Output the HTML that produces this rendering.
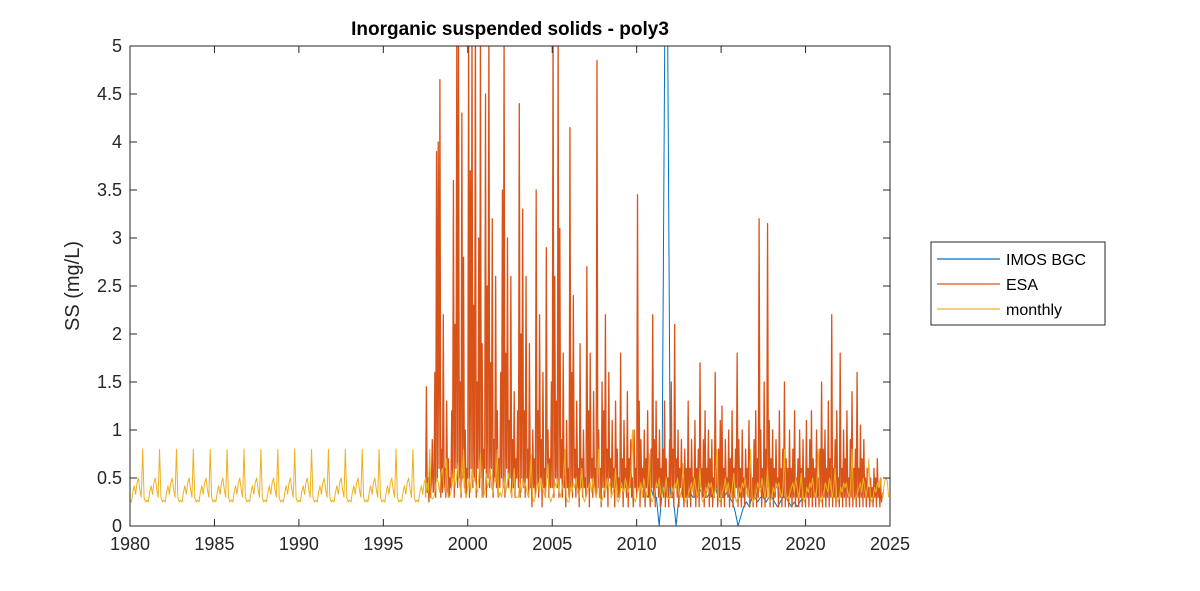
<!DOCTYPE html>
<html><head><meta charset="utf-8"><style>
html,body{margin:0;padding:0;background:#fff;}
svg{display:block;font-family:"Liberation Sans",Arial,sans-serif;}
</style></head><body>
<svg id="chart" width="1200" height="591" viewBox="0 0 1200 591">
<defs><clipPath id="clip"><rect x="130" y="46" width="760" height="480"/></clipPath></defs>
<rect width="1200" height="591" fill="#fff"/>
<text x="510" y="35" text-anchor="middle" font-size="19" font-weight="bold" fill="#000">Inorganic suspended solids - poly3</text>
<text transform="translate(79,286) rotate(-90)" text-anchor="middle" font-size="20" fill="#262626">SS (mg/L)</text>
<g id="series" clip-path="url(#clip)"></g>
<g id="axes"></g>
<g>
<rect x="931" y="242" width="174" height="83" fill="#fff" stroke="#262626" stroke-width="1"/>
<line x1="937" y1="259" x2="1000" y2="259" stroke="#0072BD" stroke-width="1.2"/>
<text x="1006" y="265" font-size="16" fill="#000">IMOS BGC</text>
<line x1="937" y1="284" x2="1000" y2="284" stroke="#D95319" stroke-width="1.2"/>
<text x="1006" y="290" font-size="16" fill="#000">ESA</text>
<line x1="937" y1="309" x2="1000" y2="309" stroke="#EDB120" stroke-width="1.2"/>
<text x="1006" y="315" font-size="16" fill="#000">monthly</text>
</g>
</svg>
<script>
const xTicks=[1980,1985,1990,1995,2000,2005,2010,2015,2020,2025];
const yTicks=[0,0.5,1,1.5,2,2.5,3,3.5,4,4.5,5];
const yTickLabels=["0","0.5","1","1.5","2","2.5","3","3.5","4","4.5","5"];
const monthlyClim=[0.27,0.25,0.35,0.42,0.33,0.45,0.5,0.38,0.3,0.8,0.3,0.25];
const monthlyPostStart=1997.5;
const monthlyPost=[
0.3,0.45,0.35,0.8,0.3,0.28,
0.3,0.4,0.5,0.45,0.35,0.55,0.6,0.4,0.35,0.7,0.3,0.3,
0.35,0.45,0.6,0.4,0.5,0.65,0.45,0.35,0.5,0.8,0.35,0.3,
0.4,0.5,0.35,0.6,0.45,0.5,0.4,0.35,0.55,0.75,0.3,0.3,
0.35,0.55,0.4,0.45,0.6,0.4,0.35,0.5,0.45,0.8,0.3,0.35,
0.3,0.4,0.5,0.35,0.45,0.55,0.4,0.3,0.45,0.6,0.3,0.3,
0.3,0.45,0.35,0.5,0.4,0.45,0.35,0.3,0.4,0.75,0.3,0.25,
0.3,0.4,0.45,0.35,0.5,0.4,0.35,0.3,0.45,0.65,0.3,0.25,
0.3,0.35,0.45,0.4,0.5,0.35,0.3,0.4,0.45,0.8,0.3,0.25,
0.25,0.4,0.35,0.45,0.4,0.5,0.35,0.3,0.4,0.6,0.3,0.25,
0.3,0.35,0.4,0.45,0.35,0.5,0.4,0.3,0.35,0.8,0.3,0.25,
0.3,0.4,0.35,0.5,0.4,0.45,0.3,0.35,0.4,0.6,0.28,0.25,
0.3,0.45,0.4,0.35,0.5,0.4,0.35,0.45,0.55,1.0,0.3,0.25,
0.3,0.4,0.35,0.45,0.3,0.5,0.4,0.3,0.45,0.75,0.3,0.25,
0.3,0.35,0.45,0.4,0.5,0.35,0.3,0.4,0.35,0.5,0.3,0.28,
0.3,0.4,0.35,0.45,0.4,0.5,0.35,0.3,0.4,0.65,0.3,0.25,
0.28,0.35,0.4,0.45,0.35,0.5,0.4,0.3,0.4,0.6,0.3,0.25,
0.3,0.4,0.35,0.45,0.4,0.45,0.35,0.3,0.4,0.8,0.3,0.25,
0.3,0.35,0.4,0.5,0.35,0.45,0.35,0.3,0.4,0.55,0.3,0.25,
0.3,0.4,0.35,0.45,0.4,0.5,0.35,0.3,0.4,0.8,0.3,0.25,
0.3,0.35,0.45,0.4,0.35,0.5,0.4,0.3,0.4,0.6,0.3,0.25,
0.3,0.4,0.35,0.45,0.4,0.45,0.35,0.3,0.4,0.8,0.3,0.28,
0.3,0.35,0.4,0.45,0.35,0.5,0.4,0.3,0.4,0.55,0.3,0.25,
0.3,0.4,0.35,0.45,0.4,0.5,0.35,0.3,0.4,0.8,0.3,0.25,
0.3,0.35,0.45,0.4,0.35,0.5,0.4,0.3,0.4,0.6,0.3,0.25,
0.3,0.4,0.35,0.45,0.4,0.45,0.35,0.3,0.4,0.8,0.3,0.28,
0.3,0.35,0.4,0.45,0.35,0.5,0.4,0.3,0.4,0.7,0.3,0.25,
0.3,0.4,0.35,0.45,0.4,0.5,0.35,0.3,0.45,0.5,0.48,0.3];
const esaStart=1997.5;
const esaPerYear=20;
const esaValues=[
0.3,1.45,0.35,0.5,0.25,0.6,0.3,0.45,0.9,0.35,
0.4,1.6,0.3,3.9,0.5,4.0,0.6,4.65,0.3,0.8,0.35,2.2,0.4,0.6,0.3,1.3,0.35,0.7,0.3,0.5,
0.4,1.2,0.5,3.6,0.3,2.1,0.6,5.2,0.4,5.3,0.5,1.5,0.3,4.3,0.5,2.8,0.4,1.0,0.3,0.6,
0.5,5.3,0.3,3.7,0.6,5.2,0.4,2.3,0.5,5.4,0.3,1.5,0.6,3.0,0.4,5.2,0.5,1.9,0.3,0.8,
0.6,4.5,0.3,2.5,0.5,5.3,0.4,1.7,0.6,3.2,0.3,0.9,0.5,2.6,0.4,1.2,0.3,0.7,0.4,1.6,
0.5,3.5,0.4,5.2,0.3,1.8,0.6,3.0,0.4,1.1,0.5,2.6,0.3,0.9,0.4,1.4,0.3,0.7,0.5,1.2,
0.4,4.4,0.3,2.0,0.5,3.3,0.4,1.2,0.3,2.6,0.5,0.8,0.3,1.9,0.4,0.6,0.2,1.0,0.4,0.7,
0.3,3.5,0.4,1.2,0.3,2.2,0.5,0.9,0.2,1.6,0.4,0.6,0.3,2.9,0.5,1.0,0.3,0.7,0.4,1.5,
0.4,5.2,0.3,2.6,0.5,1.3,0.4,5.1,0.3,3.1,0.5,0.9,0.3,1.8,0.4,0.7,0.2,1.1,0.4,0.6,
0.3,4.15,0.4,1.6,0.3,2.4,0.5,0.8,0.3,1.3,0.4,0.6,0.2,1.9,0.4,0.7,0.3,1.0,0.4,0.5,
0.3,2.7,0.4,1.2,0.2,1.8,0.5,0.7,0.3,1.4,0.4,0.6,0.3,4.85,0.4,1.0,0.3,0.6,0.2,1.5,
0.4,1.2,0.3,2.2,0.4,0.8,0.2,1.6,0.5,0.7,0.3,1.1,0.4,0.6,0.2,1.3,0.4,0.8,0.3,0.5,
0.3,1.8,0.4,0.7,0.2,1.1,0.4,0.6,0.3,1.4,0.2,0.7,0.4,0.9,0.3,0.5,0.2,1.0,0.4,0.6,
0.3,3.45,0.4,1.3,0.2,0.9,0.4,0.6,0.3,1.0,0.2,0.7,0.4,1.2,0.3,0.6,0.2,0.8,0.4,2.2,
0.3,0.9,0.2,1.3,0.4,0.7,0.3,1.0,0.2,0.6,0.4,0.8,0.3,1.3,0.2,0.7,0.3,0.5,0.2,0.9,
0.4,1.5,0.3,0.8,0.2,2.1,0.4,0.7,0.3,1.0,0.2,0.6,0.4,0.9,0.3,0.5,0.2,0.8,0.3,0.6,
0.2,1.3,0.3,0.6,0.2,0.9,0.4,0.5,0.3,1.1,0.2,0.6,0.3,0.8,0.2,1.7,0.4,0.6,0.3,0.9,
0.2,1.2,0.3,0.6,0.4,1.0,0.2,0.7,0.3,0.9,0.2,0.5,0.3,1.6,0.4,0.6,0.2,0.8,0.3,1.1,
0.2,1.25,0.3,0.6,0.2,0.9,0.4,0.5,0.3,1.0,0.2,0.7,0.3,1.2,0.2,0.6,0.3,0.8,0.4,1.8,
0.2,0.9,0.3,0.6,0.2,1.0,0.3,0.5,0.2,0.8,0.4,0.6,0.3,1.1,0.2,0.7,0.3,0.5,0.2,0.9,
0.3,1.2,0.2,0.7,0.3,3.2,0.4,1.0,0.2,0.6,0.3,1.5,0.2,0.8,0.3,3.15,0.4,1.1,0.2,0.7,
0.3,1.0,0.2,0.6,0.3,0.9,0.4,0.5,0.2,1.2,0.3,0.6,0.2,0.8,0.3,1.5,0.2,0.7,0.3,0.6,
0.2,1.0,0.3,0.6,0.2,0.8,0.3,1.2,0.2,0.5,0.3,0.7,0.2,1.0,0.3,0.6,0.2,0.9,0.3,0.5,
0.2,1.1,0.3,0.6,0.2,0.9,0.3,1.2,0.2,0.7,0.3,0.6,0.2,1.0,0.3,0.5,0.2,0.8,0.3,1.5,
0.2,0.8,0.3,1.0,0.2,0.6,0.3,1.3,0.2,0.7,0.3,2.2,0.2,0.6,0.3,0.9,0.2,1.2,0.3,0.5,
0.2,1.8,0.3,0.6,0.2,1.0,0.3,0.7,0.2,1.2,0.3,0.5,0.2,0.9,0.3,1.4,0.2,0.6,0.3,0.8,
0.2,1.6,0.3,0.6,0.2,1.05,0.3,0.7,0.2,0.9,0.3,0.5,0.2,0.6,0.3,0.4,0.2,0.5,0.3,0.4,
0.2,0.6,0.3,0.5,0.2,0.7,0.3,0.4,0.2,0.5,0.25,0.35];
const imosStart=2010.5;
const imosPerYear=6;
const imosValues=[0.35,0.3,0.4,0.3,0.3,0.0,0.35,5.2,5.2,0.3,0.3,0.0,0.3,0.35,0.4,0.3,0.35,0.3,0.3,0.4,0.35,0.3,0.3,0.35,0.3,0.4,0.3,0.3,0.3,0.35,0.3,0.25,0.15,0.0,0.1,0.2,0.25,0.2,0.3,0.3,0.25,0.3,0.3,0.25,0.3,0.3,0.25,0.2,0.25,0.3,0.3,0.25,0.2,0.25,0.2,0.25,0.3];

const X0=130,X1=890,Y0=526,Y1=46;
function xs(t){return X0+(t-1980)/(2025-1980)*(X1-X0);}
function ys(v){return Y0-(v-0)/(5-0)*(Y0-Y1);}
const NS="http://www.w3.org/2000/svg";
const series=document.getElementById('series');
const axes=document.getElementById('axes');
function mk(tag,attrs,parent){const e=document.createElementNS(NS,tag);for(const k in attrs)e.setAttribute(k,attrs[k]);parent.appendChild(e);return e;}
function poly(pts,color,name,w){
  const d=pts.map((p,i)=>(i?'L':'M')+xs(p[0]).toFixed(2)+','+ys(p[1]).toFixed(2)).join('');
  const p=mk('path',{d:d,fill:'none',stroke:color,'stroke-width':w,'stroke-linejoin':'round'},series);
  
  
}
const mPts=[];
for(let t=1980;t<monthlyPostStart;t+=1/12){const m=Math.round((t-1980)*12)%12;mPts.push([t,monthlyClim[m]]);}
monthlyPost.forEach((v,i)=>mPts.push([monthlyPostStart+i/12,v]));
const ePts=esaValues.map((v,i)=>[esaStart+i/esaPerYear,v]);
const iPts=imosValues.map((v,i)=>[imosStart+i/imosPerYear,v]);
poly(iPts,'#0072BD','series-imos-bgc',1);
poly(ePts,'#D95319','series-esa',1.3);
poly(mPts,'#EDB120','series-monthly',1);

mk('rect',{x:X0,y:Y1,width:X1-X0,height:Y0-Y1,fill:'none',stroke:'#262626','stroke-width':1},axes);
xTicks.forEach(t=>{
  const x=xs(t);
  const l1=mk('line',{x1:x,x2:x,y1:Y0,y2:Y0-7,stroke:'#262626'},axes);
  
  
  mk('line',{x1:x,x2:x,y1:Y1,y2:Y1+7,stroke:'#262626'},axes);
  const tx=mk('text',{x:x,y:Y0+24,'text-anchor':'middle','font-size':18,fill:'#262626'},axes);
  tx.textContent=String(t);
  
  
});
yTicks.forEach((v,i)=>{
  const y=ys(v);
  const l1=mk('line',{x1:X0,x2:X0+7,y1:y,y2:y,stroke:'#262626'},axes);
  
  
  mk('line',{x1:X1,x2:X1-7,y1:y,y2:y,stroke:'#262626'},axes);
  const tx=mk('text',{x:X0-8,y:y+6,'text-anchor':'end','font-size':18,fill:'#262626'},axes);
  tx.textContent=yTickLabels[i];
  
  
});
</script>
</body></html>
